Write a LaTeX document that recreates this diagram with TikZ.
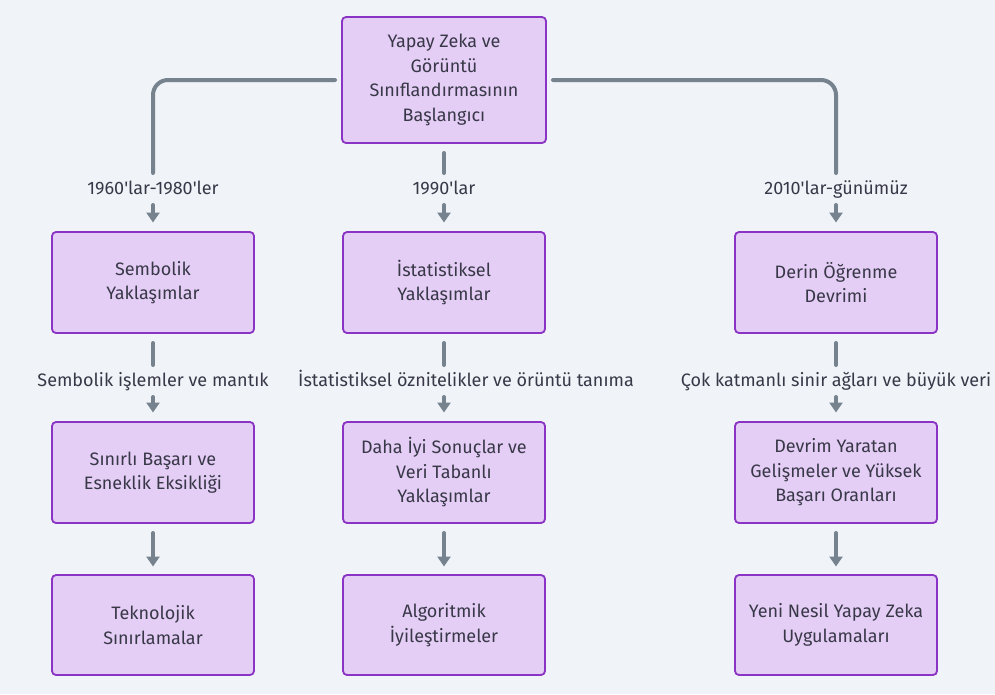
\documentclass[tikz,border=0pt]{standalone}
\usepackage{fontspec}
\setmainfont{Fira Sans}
\usetikzlibrary{arrows.meta}
\definecolor{bg}{HTML}{F0F3F7}
\definecolor{nodefill}{HTML}{E5CEF5}
\definecolor{nodeborder}{HTML}{8A33C4}
\definecolor{edgecol}{HTML}{76838F}
\definecolor{txt}{HTML}{383848}
\tikzset{
  box/.style={draw=nodeborder, fill=nodefill, line width=1.8pt, rounded corners=4pt,
    minimum width=202pt, align=center, text=txt, font=\fontsize{18}{24.5}\selectfont, outer sep=0pt},
  lbl/.style={text=txt, font=\fontsize{18}{22}\selectfont, inner sep=0pt, outer sep=0pt,
    text height=13pt, text depth=4pt},
  conn/.style={draw=edgecol, line width=4pt, rounded corners=15pt, line cap=round},
  tolbl/.style={conn, shorten <=10pt, shorten >=8.5pt},
  fromlbl/.style={conn, shorten <=6.5pt, shorten >=9.5pt, -{Triangle[length=10pt,width=13pt]}},
  direct/.style={conn, shorten <=10pt, shorten >=8.5pt, -{Triangle[length=10pt,width=13pt]}}
}
\begin{document}
\begin{tikzpicture}[x=1pt,y=-1pt]
\fill[bg] (0,0) rectangle (995,694);
\useasboundingbox (0,0) rectangle (995,694);
% nodes
\node[box, minimum width=204pt, minimum height=126pt] (top) at (444,80) {Yapay Zeka ve\\Görüntü\\Sınıflandırmasının\\Başlangıcı};
\node[box, minimum height=101pt] (a1) at (153,282.5) {Sembolik\\Yaklaşımlar};
\node[box, minimum height=101pt] (b1) at (444,282.5) {İstatistiksel\\Yaklaşımlar};
\node[box, minimum height=101pt] (c1) at (836,282.5) {Derin Öğrenme\\Devrimi};
\node[box, minimum height=101pt] (a2) at (153,472.5) {Sınırlı Başarı ve\\Esneklik Eksikliği};
\node[box, minimum height=101pt] (b2) at (444,472.5) {Daha İyi Sonuçlar ve\\Veri Tabanlı\\Yaklaşımlar};
\node[box, minimum height=101pt] (c2) at (836,472.5) {Devrim Yaratan\\Gelişmeler ve Yüksek\\Başarı Oranları};
\node[box, minimum height=100pt] (a3) at (153,625) {Teknolojik\\Sınırlamalar};
\node[box, minimum height=100pt] (b3) at (444,625) {Algoritmik\\İyileştirmeler};
\node[box, minimum height=100pt] (c3) at (836,625) {Yeni Nesil Yapay Zeka\\Uygulamaları};
% labels
\node[lbl] (la) at (153,190) {1960\textquotesingle lar-1980\textquotesingle ler};
\node[lbl] (lb) at (444,190) {1990\textquotesingle lar};
\node[lbl] (lc) at (836,190) {2010\textquotesingle lar-günümüz};
\node[lbl] (ma) at (153,382) {Sembolik işlemler ve mantık};
\node[lbl] (mb) at (466,382) {İstatistiksel öznitelikler ve örüntü tanıma};
\node[lbl] (mc) at (836,382) {Çok katmanlı sinir ağları ve büyük veri};
% connectors
\draw[tolbl, shorten <=7pt] (top.west) -| (la.north);
\draw[fromlbl] (la.south) -- (a1.north);
\draw[tolbl] (top.south) -- (lb.north);
\draw[fromlbl] (lb.south) -- (b1.north);
\draw[tolbl, shorten <=7pt] (top.east) -| (lc.north);
\draw[fromlbl] (lc.south) -- (c1.north);
\draw[tolbl] (a1.south) -- (ma.north);
\draw[fromlbl] (ma.south) -- (a2.north);
\draw[tolbl] (b1.south) -- (b1.south |- mb.north);
\draw[fromlbl] (b2.north |- mb.south) -- (b2.north);
\draw[tolbl] (c1.south) -- (mc.north);
\draw[fromlbl] (mc.south) -- (c2.north);
\draw[direct] (a2.south) -- (a3.north);
\draw[direct] (b2.south) -- (b3.north);
\draw[direct] (c2.south) -- (c3.north);
\end{tikzpicture}
\end{document}
